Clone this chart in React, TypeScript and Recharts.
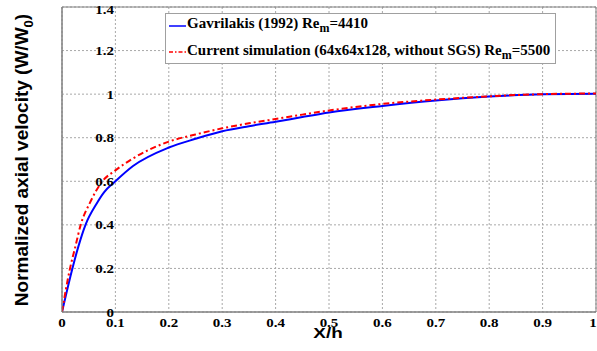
import React from "react";
import {
  LineChart,
  Line,
  XAxis,
  YAxis,
  CartesianGrid,
  ReferenceArea,
} from "recharts";

// Gavrilakis (1992) Re_m = 4410
const gavX = [0, 0.0195, 0.0306, 0.044, 0.065, 0.079, 0.1, 0.133, 0.2, 0.25, 0.3, 0.35, 0.4, 0.45, 0.5, 0.6, 0.7, 0.8, 0.9, 1.0];
const gavY = [0, 0.2, 0.3, 0.4, 0.498, 0.55, 0.6, 0.67, 0.755, 0.795, 0.83, 0.853, 0.873, 0.895, 0.916, 0.946, 0.971, 0.989, 1.0, 1.002];

// Current simulation (64x64x128, without SGS) Re_m = 5500
const simX = [0, 0.007, 0.015, 0.025, 0.035, 0.052, 0.0757, 0.1, 0.133, 0.2, 0.25, 0.3, 0.35, 0.4, 0.45, 0.5, 0.6, 0.7, 0.8, 0.9, 1.0];
const simY = [0, 0.1, 0.2, 0.3, 0.4, 0.5, 0.6, 0.65, 0.705, 0.782, 0.815, 0.843, 0.866, 0.886, 0.906, 0.925, 0.955, 0.975, 0.99, 1.0, 1.003];

const xTicks = [0, 0.1, 0.2, 0.3, 0.4, 0.5, 0.6, 0.7, 0.8, 0.9, 1];
const yTicks = [0, 0.2, 0.4, 0.6, 0.8, 1, 1.2, 1.4];

const gavData = gavX.map((x, i) => ({ x, y: gavY[i] }));
const simData = simX.map((x, i) => ({ x, y: simY[i] }));

const SERIF = '"Liberation Serif", "Times New Roman", serif';
const SANS = '"Liberation Sans", Arial, sans-serif';

const XTick = (props: any) => {
  const { x, y, payload } = props;
  return (
    <text
      transform={`translate(${x},${y + 7}) scale(1.2,1)`}
      textAnchor="middle"
      fontFamily={SERIF}
      fontWeight="bold"
      fontSize={12.5}
      fill="#000"
    >
      {String(payload.value)}
    </text>
  );
};

const YTick = (props: any) => {
  const { x, y, payload } = props;
  return (
    <text
      transform={`translate(${x + 60},${y + 4.5}) scale(1.2,1)`}
      textAnchor="end"
      fontFamily={SERIF}
      fontWeight="bold"
      fontSize={12.5}
      fill="#000"
    >
      {String(payload.value)}
    </text>
  );
};

const YLabel = () => (
  <text transform="translate(28,160) rotate(-90)" textAnchor="middle" fontFamily={SANS} fontWeight="bold" fontSize={19} fill="#000">
    Normalized axial velocity (W/W
    <tspan dy={5} fontSize={13}>0</tspan>
    <tspan dy={-5}>)</tspan>
  </text>
);

const XLabel = () => (
  <text transform="translate(328,337.5) scale(1.35,1)" textAnchor="middle" fontFamily={SANS} fontWeight="bold" fontSize={14} fill="#000">
    X/h
  </text>
);

const LegendBox = () => (
  <div
    style={{
      position: "absolute",
      left: 165,
      top: 13,
      width: 391,
      height: 51,
      boxSizing: "border-box",
      border: "1px solid #a0a0a0",
      background: "#fff",
      fontFamily: SERIF,
      fontWeight: "bold",
      fontSize: 15,
      color: "#000",
    }}
  >
    <svg style={{ position: "absolute", left: 2, top: 0 }} width={20} height={51}>
      <line x1={1} y1={12} x2={18} y2={12} stroke="#0000ff" strokeWidth={1.5} />
      <line x1={1} y1={38} x2={18} y2={38} stroke="#ff0000" strokeWidth={1.5} strokeDasharray="4 2 1.5 2" />
    </svg>
    <div style={{ position: "absolute", left: 21, top: 1, whiteSpace: "nowrap", lineHeight: "16px" }}>
      Gavrilakis (1992) Re<sub style={{ fontSize: 12 }}>m</sub>=4410
    </div>
    <div style={{ position: "absolute", left: 21, top: 28, whiteSpace: "nowrap", lineHeight: "16px" }}>
      Current simulation (64x64x128, without SGS) Re<sub style={{ fontSize: 12 }}>m</sub>=5500
    </div>
  </div>
);

export default function App() {
  return (
    <div style={{ position: "absolute", left: 0, top: 0, width: 597, height: 351, background: "#fff" }}>
      <LineChart width={597} height={351} margin={{ top: 7, right: 1, bottom: 0, left: 0 }}>
        <CartesianGrid stroke="#a8a8a8" strokeDasharray="2 2" strokeWidth={1} />
        <XAxis
          type="number"
          dataKey="x"
          domain={[0, 1]}
          ticks={xTicks}
          height={39}
          tick={<XTick />}
          tickLine={false}
          axisLine={{ stroke: "#808080" }}
          allowDataOverflow
        />
        <YAxis
          type="number"
          dataKey="y"
          domain={[0, 1.4]}
          ticks={yTicks}
          width={62}
          tick={<YTick />}
          tickLine={false}
          axisLine={{ stroke: "#808080" }}
          allowDataOverflow
        />
        <ReferenceArea x1={0} x2={1} y1={0} y2={1.4} fill="none" stroke="#808080" strokeWidth={1} ifOverflow="visible" />
        <Line data={gavData} dataKey="y" type="monotone" stroke="#0000ff" strokeWidth={2} dot={false} isAnimationActive={false} />
        <Line data={simData} dataKey="y" type="monotone" stroke="#ff0000" strokeWidth={2} strokeDasharray="6 3 2 3" dot={false} isAnimationActive={false} />
        <YLabel />
        <XLabel />
      </LineChart>
      <LegendBox />
    </div>
  );
}
